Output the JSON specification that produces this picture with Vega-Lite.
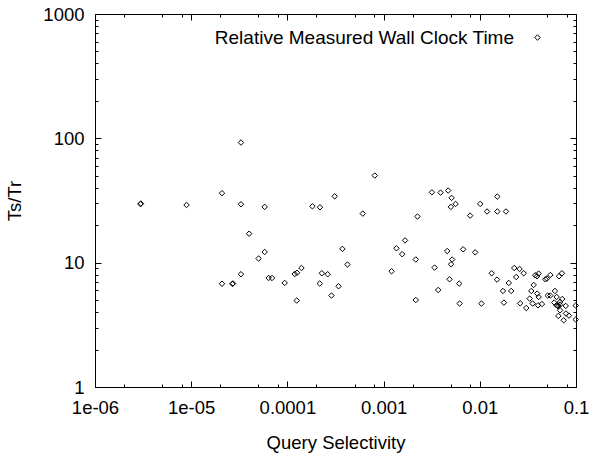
{
  "$schema": "https://vega.github.io/schema/vega-lite/v6.json",
  "width": 481,
  "height": 373,
  "autosize": {"type": "none"},
  "padding": {"left": 95, "top": 14, "right": 26, "bottom": 70},
  "background": "white",
  "config": {
    "view": {"stroke": "black", "strokeWidth": 1},
    "font": "Liberation Sans",
    "axis": {"grid": false, "domain": false, "labelFont": "Liberation Sans", "titleFont": "Liberation Sans", "labelFontSize": 18.5, "titleFontSize": 18.5, "titleFontWeight": "normal", "labelColor": "black", "titleColor": "black", "tickColor": "black", "tickWidth": 1}
  },
  "data": {"values": [
    {"sel": 2.97e-6, "r": 29.6}, {"sel": 3.0e-6, "r": 29.9}, {"sel": 8.95e-6, "r": 29.1},
    {"sel": 2.09e-5, "r": 36.2}, {"sel": 3.29e-5, "r": 29.5}, {"sel": 3.29e-5, "r": 92.5},
    {"sel": 4.0e-5, "r": 17.1}, {"sel": 5.02e-5, "r": 10.8}, {"sel": 3.29e-5, "r": 8.07},
    {"sel": 2.09e-5, "r": 6.77}, {"sel": 2.68e-5, "r": 6.75}, {"sel": 2.72e-5, "r": 6.8},
    {"sel": 5.8e-5, "r": 28.1}, {"sel": 5.8e-5, "r": 12.2}, {"sel": 6.38e-5, "r": 7.53},
    {"sel": 6.92e-5, "r": 7.53}, {"sel": 9.37e-5, "r": 6.87}, {"sel": 1.25e-4, "r": 4.96},
    {"sel": 1.19e-4, "r": 8.11}, {"sel": 1.26e-4, "r": 8.29}, {"sel": 1.40e-4, "r": 9.06},
    {"sel": 1.82e-4, "r": 28.4}, {"sel": 2.18e-4, "r": 27.9}, {"sel": 2.28e-4, "r": 8.22},
    {"sel": 2.62e-4, "r": 8.07}, {"sel": 2.17e-4, "r": 6.79}, {"sel": 3.10e-4, "r": 34.2},
    {"sel": 3.40e-4, "r": 6.46}, {"sel": 2.87e-4, "r": 5.44}, {"sel": 3.73e-4, "r": 12.9},
    {"sel": 4.21e-4, "r": 9.66}, {"sel": 6.08e-4, "r": 24.8}, {"sel": 8.09e-4, "r": 50.2},
    {"sel": 1.21e-3, "r": 8.53}, {"sel": 1.36e-3, "r": 13.05}, {"sel": 1.56e-3, "r": 11.7},
    {"sel": 1.67e-3, "r": 15.1}, {"sel": 2.16e-3, "r": 10.6}, {"sel": 2.16e-3, "r": 5.01},
    {"sel": 2.25e-3, "r": 23.5}, {"sel": 3.18e-3, "r": 36.8}, {"sel": 3.91e-3, "r": 36.6},
    {"sel": 4.69e-3, "r": 38.0}, {"sel": 5.09e-3, "r": 33.2}, {"sel": 5.0e-3, "r": 28.1},
    {"sel": 5.6e-3, "r": 29.7}, {"sel": 7.94e-3, "r": 23.9}, {"sel": 1.01e-2, "r": 29.7},
    {"sel": 1.52e-2, "r": 34.0}, {"sel": 1.19e-2, "r": 25.8}, {"sel": 1.52e-2, "r": 25.8},
    {"sel": 1.87e-2, "r": 25.8}, {"sel": 4.58e-3, "r": 12.4}, {"sel": 6.71e-3, "r": 12.8},
    {"sel": 8.95e-3, "r": 12.1}, {"sel": 5.16e-3, "r": 10.6}, {"sel": 5.03e-3, "r": 9.71},
    {"sel": 3.39e-3, "r": 9.13}, {"sel": 4.85e-3, "r": 7.35}, {"sel": 6.11e-3, "r": 6.79},
    {"sel": 3.69e-3, "r": 6.03}, {"sel": 6.17e-3, "r": 4.69}, {"sel": 1.04e-2, "r": 4.69},
    {"sel": 1.78e-2, "r": 4.77}, {"sel": 1.33e-2, "r": 8.22}, {"sel": 1.51e-2, "r": 7.31},
    {"sel": 2.0e-2, "r": 6.87}, {"sel": 1.74e-2, "r": 5.92}, {"sel": 2.12e-2, "r": 5.92},
    {"sel": 2.28e-2, "r": 9.06}, {"sel": 2.59e-2, "r": 8.90}, {"sel": 2.39e-2, "r": 7.67},
    {"sel": 2.86e-2, "r": 8.22}, {"sel": 2.63e-2, "r": 4.71}, {"sel": 3.04e-2, "r": 4.32},
    {"sel": 3.43e-2, "r": 5.92}, {"sel": 3.63e-2, "r": 6.62}, {"sel": 3.30e-2, "r": 5.14},
    {"sel": 3.54e-2, "r": 4.69}, {"sel": 3.77e-2, "r": 7.92}, {"sel": 3.93e-2, "r": 7.77},
    {"sel": 4.09e-2, "r": 8.17}, {"sel": 3.95e-2, "r": 5.64}, {"sel": 4.09e-2, "r": 5.30},
    {"sel": 4.03e-2, "r": 4.54}, {"sel": 4.43e-2, "r": 4.65}, {"sel": 4.80e-2, "r": 7.35},
    {"sel": 4.99e-2, "r": 7.45}, {"sel": 5.41e-2, "r": 7.96}, {"sel": 5.08e-2, "r": 5.44},
    {"sel": 5.41e-2, "r": 5.44}, {"sel": 6.04e-2, "r": 5.92}, {"sel": 6.29e-2, "r": 5.30},
    {"sel": 7.14e-2, "r": 8.22}, {"sel": 6.65e-2, "r": 7.77}, {"sel": 7.19e-2, "r": 5.10},
    {"sel": 6.83e-2, "r": 4.83}, {"sel": 6.29e-2, "r": 4.54}, {"sel": 6.55e-2, "r": 4.46},
    {"sel": 6.83e-2, "r": 4.60}, {"sel": 6.42e-2, "r": 4.50}, {"sel": 5.94e-2, "r": 4.78},
    {"sel": 7.82e-2, "r": 4.49}, {"sel": 6.83e-2, "r": 4.14}, {"sel": 6.55e-2, "r": 3.73},
    {"sel": 7.87e-2, "r": 3.90}, {"sel": 8.45e-2, "r": 3.75}, {"sel": 7.45e-2, "r": 3.44},
    {"sel": 9.93e-2, "r": 4.52}, {"sel": 9.93e-2, "r": 3.49}
  ]},
  "resolve": {"axis": {"x": "independent", "y": "independent"}},
  "layer": [
    {
      "mark": {"type": "point", "shape": "diamond", "filled": false, "color": "black", "size": 30, "strokeWidth": 1, "opacity": 1},
      "encoding": {
        "x": {"field": "sel", "type": "quantitative", "scale": {"type": "log", "domain": [0.000001, 0.1], "nice": false},
          "axis": {"orient": "bottom", "title": "Query Selectivity", "ticks": false, "labelPadding": 11, "titlePadding": 17,
            "values": [0.000001, 0.00001, 0.0001, 0.001, 0.01, 0.1],
            "labelExpr": "datum.value < 0.000005 ? '1e-06' : (datum.value < 0.00005 ? '1e-05' : toString(datum.value))", "labelFlush": false}},
        "y": {"field": "r", "type": "quantitative", "scale": {"type": "log", "domain": [1, 1000], "nice": false},
          "axis": {"orient": "left", "title": "Ts/Tr", "ticks": false, "labelPadding": 11, "titlePadding": 18,
            "values": [1, 10, 100, 1000], "labelExpr": "toString(datum.value)", "labelFlush": false}},
        "shape": {"datum": "Relative Measured Wall Clock Time", "type": "nominal",
          "scale": {"range": ["diamond"]},
          "legend": {"title": null, "orient": "none", "legendX": 433, "legendY": 14, "padding": 0,
            "labelFont": "Liberation Sans", "labelFontSize": 19, "labelColor": "black", "labelAlign": "right", "labelOffset": -33, "labelLimit": 0,
            "symbolSize": 30, "symbolStrokeColor": "black", "symbolFillColor": "transparent", "symbolStrokeWidth": 1}}
      }
    },
    {
      "mark": {"type": "point", "opacity": 0},
      "encoding": {
        "x": {"field": "sel", "type": "quantitative", "scale": {"type": "log", "domain": [0.000001, 0.1], "nice": false},
          "axis": {"orient": "bottom", "title": null, "labels": false, "tickSize": -6, "values": [0.000001, 0.00001, 0.0001, 0.001, 0.01, 0.1]}},
        "y": {"field": "r", "type": "quantitative", "scale": {"type": "log", "domain": [1, 1000], "nice": false},
          "axis": {"orient": "left", "title": null, "labels": false, "tickSize": -6, "values": [1, 10, 100, 1000]}}
      }
    },
    {
      "mark": {"type": "point", "opacity": 0},
      "encoding": {
        "x": {"field": "sel", "type": "quantitative", "scale": {"type": "log", "domain": [0.000001, 0.1], "nice": false},
          "axis": {"orient": "top", "title": null, "labels": false, "tickSize": -6, "values": [0.000001, 0.00001, 0.0001, 0.001, 0.01, 0.1]}},
        "y": {"field": "r", "type": "quantitative", "scale": {"type": "log", "domain": [1, 1000], "nice": false},
          "axis": {"orient": "right", "title": null, "labels": false, "tickSize": -6, "values": [1, 10, 100, 1000]}}
      }
    },
    {
      "mark": {"type": "point", "opacity": 0},
      "encoding": {
        "x": {"field": "sel", "type": "quantitative", "scale": {"type": "log", "domain": [0.000001, 0.1], "nice": false},
          "axis": {"orient": "bottom", "title": null, "labels": false, "tickSize": -3,
            "values": [0.000002, 0.000005, 0.000008, 0.00002, 0.00005, 0.00008, 0.0002, 0.0005, 0.0008, 0.002, 0.005, 0.008, 0.02, 0.05, 0.08]}},
        "y": {"field": "r", "type": "quantitative", "scale": {"type": "log", "domain": [1, 1000], "nice": false},
          "axis": {"orient": "left", "title": null, "labels": false, "tickSize": -3,
            "values": [2, 3, 4, 5, 6, 7, 8, 9, 20, 30, 40, 50, 60, 70, 80, 90, 200, 300, 400, 500, 600, 700, 800, 900]}}
      }
    },
    {
      "mark": {"type": "point", "opacity": 0},
      "encoding": {
        "x": {"field": "sel", "type": "quantitative", "scale": {"type": "log", "domain": [0.000001, 0.1], "nice": false},
          "axis": {"orient": "top", "title": null, "labels": false, "tickSize": -3,
            "values": [0.000002, 0.000005, 0.000008, 0.00002, 0.00005, 0.00008, 0.0002, 0.0005, 0.0008, 0.002, 0.005, 0.008, 0.02, 0.05, 0.08]}},
        "y": {"field": "r", "type": "quantitative", "scale": {"type": "log", "domain": [1, 1000], "nice": false},
          "axis": {"orient": "right", "title": null, "labels": false, "tickSize": -3,
            "values": [2, 3, 4, 5, 6, 7, 8, 9, 20, 30, 40, 50, 60, 70, 80, 90, 200, 300, 400, 500, 600, 700, 800, 900]}}
      }
    }
  ]
}
